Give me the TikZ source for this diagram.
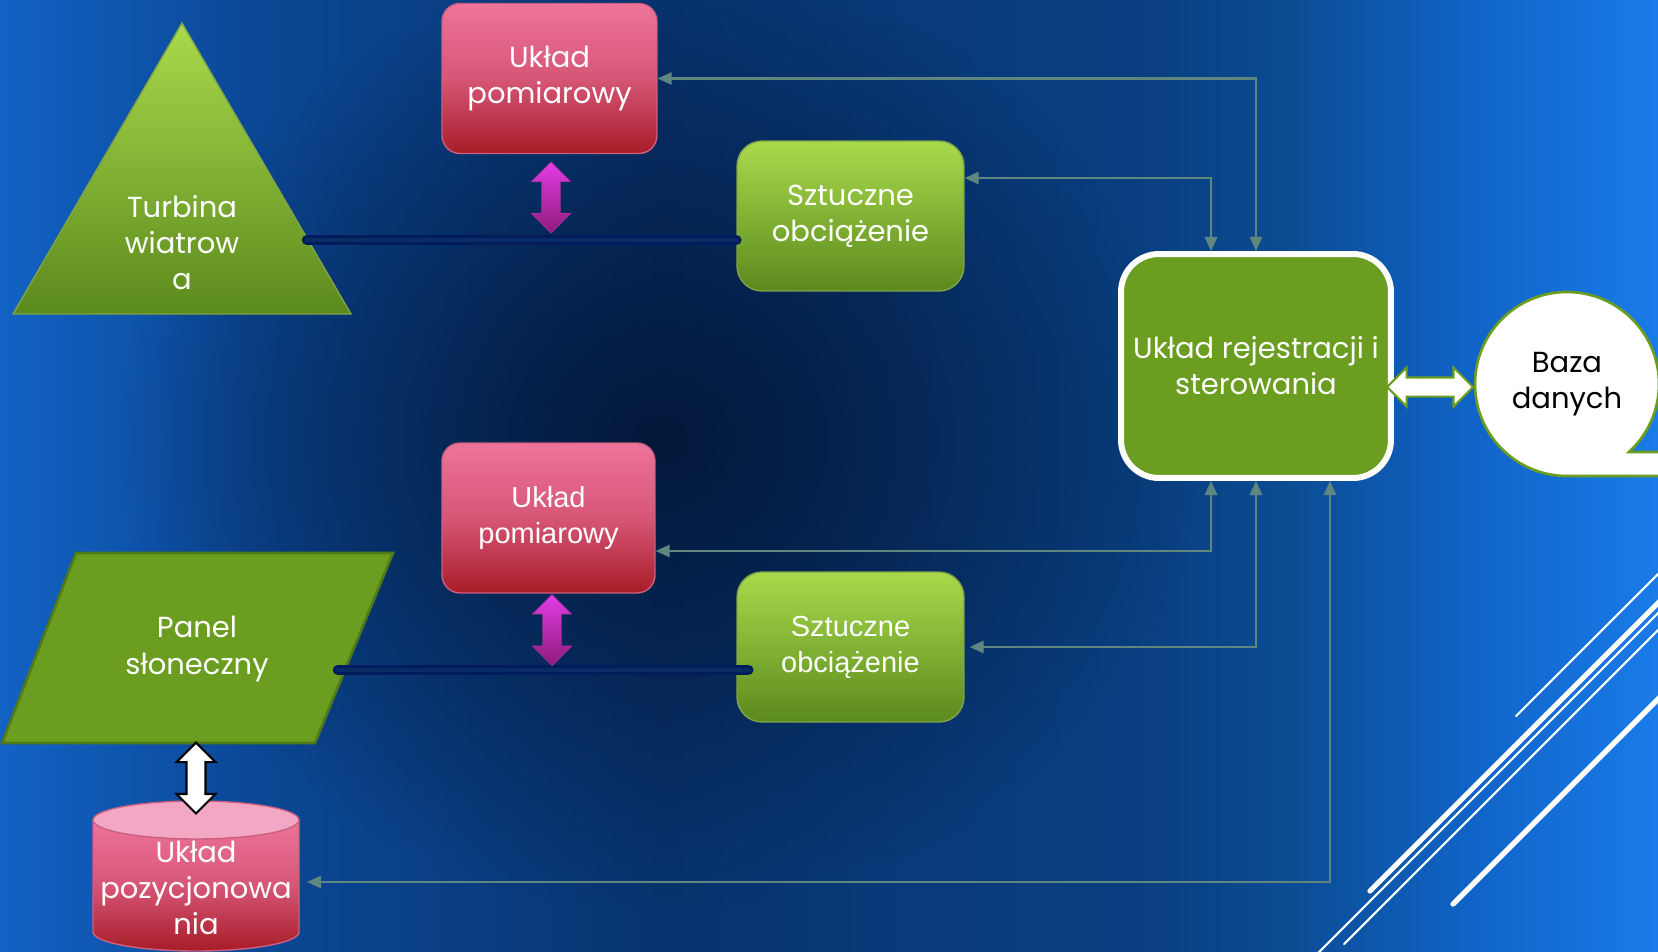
\documentclass[tikz,border=0pt]{standalone}
\usepackage{fontspec}
\setmainfont{Poppins}
\newfontfamily\arialfont{Liberation Sans}
\usepackage{tikz}
\usetikzlibrary{arrows.meta,positioning,shapes,calc,fadings}
\definecolor{bgleft}{RGB}{18,98,196}
\definecolor{bgside}{RGB}{11,72,150}
\definecolor{bgmid}{RGB}{8,52,112}
\definecolor{bgmidr}{RGB}{11,76,148}
\definecolor{bgrmid}{RGB}{16,100,200}
\definecolor{bgright}{RGB}{26,123,232}
\definecolor{bgdark}{RGB}{3,24,58}
\definecolor{pinktop}{RGB}{238,116,155}
\definecolor{pinkmid}{RGB}{214,86,118}
\definecolor{pinkbot}{RGB}{168,28,40}
\definecolor{pinkline}{RGB}{204,96,128}
\definecolor{cyltop}{RGB}{242,168,196}
\definecolor{greentop}{RGB}{169,218,75}
\definecolor{greenmid}{RGB}{130,178,52}
\definecolor{greenbot}{RGB}{91,138,29}
\definecolor{greenline}{RGB}{128,162,72}
\definecolor{flatgreen}{RGB}{106,157,32}
\definecolor{panelline}{RGB}{80,122,24}
\definecolor{magtop}{RGB}{226,62,230}
\definecolor{magbot}{RGB}{142,26,122}
\definecolor{magline}{RGB}{176,48,160}
\definecolor{conncol}{RGB}{95,135,128}
\definecolor{barnavy}{RGB}{0,28,92}
\definecolor{barfill}{RGB}{10,44,100}
\pgfdeclarehorizontalshading{bgshade}{100bp}{color(0bp)=(bgleft); color(25bp)=(bgleft); color(32.5bp)=(bgside); color(45bp)=(bgmid); color(60bp)=(bgmid!50!bgmidr); color(64bp)=(bgmidr); color(69.5bp)=(bgrmid); color(75bp)=(bgright); color(100bp)=(bgright)}
\tikzfading[name=glowfade, inner color=transparent!0, outer color=transparent!100]

\begin{document}
\begin{tikzpicture}[x=0.02cm, y=-0.02cm,
  pombox/.style={rectangle, draw=pinkline, thick, rounded corners=0.36cm, top color=pinktop, bottom color=pinkbot, middle color=pinkmid, minimum width=4.3cm, minimum height=3.0cm, align=center, text=white, font=\fontsize{16.5}{20.5}\selectfont},
  loadbox/.style={rectangle, draw=greenline, thick, rounded corners=0.5cm, top color=greentop, bottom color=greenbot, middle color=greenmid, minimum width=4.54cm, minimum height=3.0cm, align=center, text=white, font=\fontsize{16.5}{20.5}\selectfont},
  regbox/.style={rectangle, draw=white, line width=0.12cm, rounded corners=0.76cm, fill=flatgreen, minimum width=5.4cm, minimum height=4.48cm, align=center, text=white, font=\fontsize{16.5}{20.5}\selectfont},
  label/.style={align=center, text=white, font=\fontsize{16.5}{20.5}\selectfont},
  arial/.style={font=\arialfont\fontsize{16.5}{20.5}\selectfont},
  conn/.style={draw=conncol, line width=1.2pt, {Triangle[length=8pt,width=7pt]}-{Triangle[length=8pt,width=7pt]}},
  bar/.style={draw=barnavy, line width=0.06cm, double=barfill, double distance=0.09cm, line cap=round},
  marrow/.style={double arrow, shape border rotate=90, draw=magline, top color=magtop, bottom color=magbot, minimum height=1.42cm, minimum width=0.78cm, double arrow head extend=0.2cm, inner sep=0.17cm},
  warrow/.style={double arrow, fill=white, line width=1.2pt, minimum width=0.76cm, double arrow head extend=0.2cm, inner sep=0.17cm},
  streak/.style={draw=white, line cap=round}
]
  \useasboundingbox (0,0) rectangle (1658,951);
  \clip (0,0) rectangle (1658,951);

  % background
  \shade[shading=bgshade] (0,0) rectangle (1658,951);
  \fill[bgdark, path fading=glowfade] (660,440) ellipse [x radius=540, y radius=470];

  \draw[streak, line width=1.2pt] (1516,716) -- (1700,532);
  \draw[streak, line width=3pt] (1370,891) -- (1700,561);
  \draw[streak, line width=1.2pt] (1310,961) -- (1700,571);
  \draw[streak, line width=1.2pt] (1344,944) -- (1700,588);
  \draw[streak, line width=3pt] (1453,904) -- (1700,657);

  % sources
  \shade[top color=greentop, bottom color=greenbot, draw=greenline, thick] (182,23) -- (351,314) -- (13,314) -- cycle;
  \node[label] (turb) at (182,243) {Turbina\\wiatrow\\a};
  \coordinate (turbR) at (307,240);

  \fill[flatgreen, draw=panelline, line width=1.5pt] (76,553) -- (393,553) -- (315,743) -- (2,743) -- cycle;
  \node[label] (panel) at (197,649) {Panel\\słoneczny};
  \coordinate (panelR) at (338,670);

  \shade[top color=pinktop, bottom color=pinkbot, middle color=pinkmid, draw=pinkline, thick] (93,820) -- (93,932) arc[start angle=180, end angle=0, x radius=103, y radius=19] -- (299,820) -- cycle;
  \fill[cyltop, draw=pinkline, thick] (196,820) ellipse [x radius=103, y radius=19];
  \node[label] (poz) at (196,888) {Układ\\pozycjonowa\\nia};
  \coordinate (cylR) at (299,882);

  % blocks
  \node[pombox] (pom1) at (549.5,78.5) {Układ\\pomiarowy};
  \node[loadbox] (szt1) at (850.5,216) {Sztuczne\\obciążenie};
  \node[pombox, arial, minimum width=4.26cm] (pom2) at (548.5,518) {Układ\\pomiarowy};
  \node[loadbox, arial] (szt2) at (850.5,647) {Sztuczne\\obciążenie};
  \node[regbox] (rej) at (1256,366) {Układ rejestracji i\\sterowania};

  \fill[white, draw=flatgreen, line width=1.5pt] (1567,476) arc[start angle=90, end angle=407.6, radius=92] -- (1700,452) -- (1700,476) -- cycle;
  \node[circle, minimum size=3.68cm, align=center, font=\fontsize{16.5}{20.5}\selectfont] (baza) at (1567,384) {Baza\\danych};

  % links
  \draw[bar] (turbR) -- (szt1.west |- turbR);
  \draw[bar] (panelR) -- ([xshift=0.24cm]szt2.west |- panelR);
  \node[marrow] (m1) at (551,197.5) {};
  \node[marrow] (m2) at (552,630) {};
  \node[warrow, draw=black, shape border rotate=90, minimum height=1.42cm] (wv) at (196,778) {};
  \node[warrow, draw=flatgreen, minimum height=1.72cm] (wh) at (1430,387) {};

  \draw[conn] (pom1.east) -| (rej.north);
  \draw[conn] ([yshift=0.76cm]szt1.east) -| ([xshift=-0.9cm]rej.north);
  \draw[conn] ([yshift=-0.66cm]pom2.east) -| ([xshift=-0.9cm]rej.south);
  \draw[conn, shorten <=0.1cm] (szt2.east) -| (rej.south);
  \draw[conn, shorten <=0.16cm] (cylR) -| ([xshift=1.48cm]rej.south);
\end{tikzpicture}
\end{document}
